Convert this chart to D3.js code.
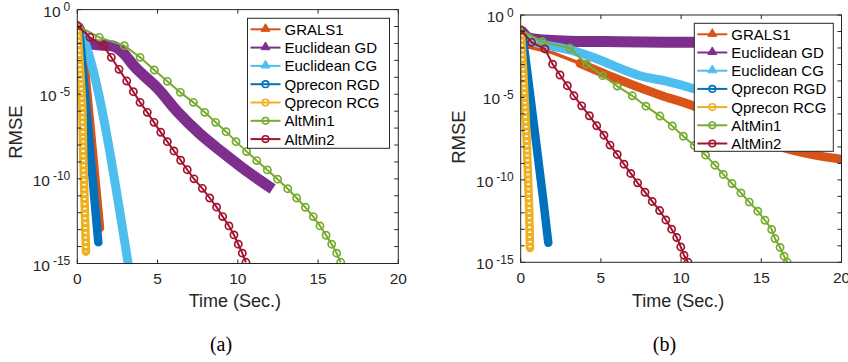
<!DOCTYPE html>
<html>
<head>
<meta charset="utf-8">
<script src="https://cdn.jsdelivr.net/npm/d3@7"></script>
<style>
  body { margin: 0; background: #fff; }
  svg { display: block; }
</style>
</head>
<body>
<svg id="chart" width="848" height="362"></svg>
<script>
const seriesNames = ['GRALS1', 'Euclidean GD', 'Euclidean CG', 'Qprecon RGD', 'Qprecon RCG', 'AltMin1', 'AltMin2'];
const seriesColors = ['#D95319', '#7E2F8E', '#4DBEEE', '#0072BD', '#EDB120', '#77AC30', '#A2142F'];
const seriesMarkers = ['triangle', 'triangle', 'triangle', 'circle', 'circle', 'circle', 'circle'];

const xTicks = [0, 5, 10, 15, 20];
const yLabelExps = [0, -5, -10, -15];
const panelCaptions = ['(a)', '(b)'];

// values are log10(RMSE) against time in seconds

// panel (a)
const grals1A_t = [0, 0.2, 0.58, 1.4];
const grals1A_v = [-0.95, -1.2, -4.65, -12.9];
const eucGdA_t = [0, 0.6, 1.0, 2.2, 2.9, 3.5, 5, 6.3, 7.66, 9, 10.5, 12.17];
const eucGdA_v = [-0.95, -1.9, -2.05, -2.15, -2.6, -3.3, -4.65, -6.1, -7.36, -8.4, -9.5, -10.6];
const eucCgA_t = [0, 0.25, 3.2];
const eucCgA_v = [-0.95, -1.4, -15.2];
const rgdA_t = [0, 0.17, 1.31];
const rgdA_v = [-0.95, -1.7, -13.75];
const rcgA_t = [0, 0.12, 0.31, 0.37, 0.46, 0.54];
const rcgA_v = [-0.95, -2.68, -5.64, -8.59, -11.54, -14.3];
const altMin1A_t = [0, 1.37, 2.93, 3.91, 4.80, 5.61, 6.42, 7.23, 7.94, 8.62, 9.27, 9.89, 10.55, 11.18, 11.84, 12.48, 13.11, 13.67, 14.21, 14.70, 15.12, 15.5, 15.85, 16.16, 16.41];
const altMin1A_v = [-0.95, -1.64, -2.13, -2.82, -3.57, -4.24, -4.89, -5.48, -6.07, -6.66, -7.21, -7.80, -8.39, -8.92, -9.47, -10.02, -10.58, -11.13, -11.68, -12.23, -12.78, -13.33, -13.86, -14.39, -14.93];
const altMin2A_t = [0, 0.79, 1.62, 2.12, 2.60, 3.08, 3.49, 3.91, 4.36, 4.78, 5.20, 5.61, 6.02, 6.44, 6.85, 7.27, 7.79, 8.25, 8.68, 9.06, 9.45, 9.76, 10.03, 10.28, 10.51];
const altMin2A_v = [-0.95, -1.64, -2.13, -2.82, -3.53, -4.22, -4.85, -5.48, -6.07, -6.66, -7.25, -7.80, -8.35, -8.90, -9.46, -10.0, -10.56, -11.13, -11.67, -12.23, -12.78, -13.31, -13.86, -14.39, -14.93];

// panel (b)
const grals1B_t = [0, 0.3, 2, 3.7, 6.2, 8.7, 10.9, 13, 16.4, 20];
const grals1B_v = [-0.91, -1.9, -2.3, -2.93, -3.95, -4.86, -5.57, -6.6, -8.05, -8.75];
const eucGdB_t = [0, 0.58, 2, 3.5, 6.2, 10.8, 14];
const eucGdB_v = [-0.91, -1.42, -1.55, -1.6, -1.62, -1.66, -1.68];
const eucCgB_t = [0, 0.3, 1.35, 3.07, 4.94, 6.2, 7.5, 9, 10.9, 13];
const eucCgB_v = [-0.95, -1.4, -1.76, -2.12, -2.73, -3.24, -3.7, -4.0, -4.5, -5.2];
const rgdB_t = [0, 0.09, 0.89, 1.41, 1.72];
const rgdB_v = [-0.91, -1.0, -7.18, -11.23, -13.82];
const rcgB_t = [0, 0.16, 0.37, 0.52, 0.58];
const rcgB_v = [-0.91, -3.44, -7.49, -11.5, -14.13];
const altMin1B_t = [0, 1.35, 3.07, 4.11, 5.11, 6.02, 6.96, 7.81, 8.68, 9.45, 10.14, 10.82, 11.53, 12.11, 12.63, 13.17, 13.73, 14.25, 14.78, 15.23, 15.65, 15.85, 16.17, 16.42, 16.62];
const altMin1B_v = [-0.91, -1.62, -2.02, -2.98, -3.68, -4.31, -4.90, -5.53, -6.13, -6.73, -7.35, -7.91, -8.5, -9.11, -9.67, -10.22, -10.79, -11.35, -11.9, -12.45, -13.01, -13.56, -14.1, -14.63, -15.0];
const altMin2B_t = [0, 0.68, 1.51, 1.99, 2.45, 2.91, 3.32, 3.80, 4.28, 4.74, 5.19, 5.57, 6.02, 6.44, 6.86, 7.29, 7.75, 8.2, 8.66, 9.05, 9.41, 9.73, 9.98, 10.18, 10.43];
const altMin2B_v = [-0.91, -1.66, -2.06, -2.98, -3.64, -4.29, -4.90, -5.51, -6.11, -6.72, -7.29, -7.89, -8.46, -9.05, -9.61, -10.18, -10.75, -11.31, -11.86, -12.43, -12.99, -13.5, -14.07, -14.57, -15.0];

const zip = (ts, vs) => ts.map((t, i) => ({ t, r: Math.pow(10, vs[i]) }));

const panels = [
  {
    left: 77.3, right: 398.3, top: 9.6, bottom: 263.5, dx: 0,
    legend: { x: 247.5, y: 18.3, w: 142, h: 130, row: 18.3 },
    orangeBandFrom: 0,
    series: [
      zip(grals1A_t, grals1A_v), zip(eucGdA_t, eucGdA_v), zip(eucCgA_t, eucCgA_v),
      zip(rgdA_t, rgdA_v), zip(rcgA_t, rcgA_v), zip(altMin1A_t, altMin1A_v), zip(altMin2A_t, altMin2A_v)
    ]
  },
  {
    left: 520.7, right: 841.5, top: 15, bottom: 262.3, dx: 443.4,
    legend: { x: 694.3, y: 23.3, w: 139, h: 128, row: 18.2 },
    orangeBandFrom: 3.7,
    series: [
      zip(grals1B_t, grals1B_v), zip(eucGdB_t, eucGdB_v), zip(eucCgB_t, eucCgB_v),
      zip(rgdB_t, rgdB_v), zip(rcgB_t, rcgB_v), zip(altMin1B_t, altMin1B_v), zip(altMin2B_t, altMin2B_v)
    ]
  }
];

const svg = d3.select('#chart');
const axisColor = '#262626';
const font = '"Liberation Sans", Arial, Helvetica, sans-serif';

panels.forEach((p, pi) => {
  const x = d3.scaleLinear().domain([0, 20]).range([p.left, p.right]);
  const y = d3.scaleLog().domain([1e-15, 1]).range([p.bottom, p.top]);
  const g = svg.append('g');

  const clipId = 'clip' + pi;
  g.append('clipPath').attr('id', clipId)
    .append('rect')
    .attr('x', p.left).attr('y', p.top)
    .attr('width', p.right - p.left).attr('height', p.bottom - p.top);

  const plot = g.append('g').attr('clip-path', `url(#${clipId})`);
  const line = d3.line().x(d => x(d.t)).y(d => y(d.r));
  const smooth = d3.line().x(d => x(d.t)).y(d => y(d.r)).curve(d3.curveMonotoneX);

  p.series.forEach((data, si) => {
    const c = seriesColors[si];
    if (si === 0) {
      // GRALS1: line, then dense triangles form a band
      plot.append('path').attr('d', line(data))
        .attr('fill', 'none').attr('stroke', c).attr('stroke-width', 3.5)
        .attr('stroke-linejoin', 'round');
      const idx = data.findIndex(d => d.t >= p.orangeBandFrom);
      plot.append('path').attr('d', smooth(data.slice(idx)))
        .attr('fill', 'none').attr('stroke', c).attr('stroke-width', 9)
        .attr('stroke-linejoin', 'round').attr('stroke-linecap', 'round');
    } else if (si === 1 || si === 2) {
      plot.append('path').attr('d', smooth(data))
        .attr('fill', 'none').attr('stroke', c)
        .attr('stroke-width', si === 1 ? 11 : 9)
        .attr('stroke-linejoin', 'round');
    } else if (si === 3) {
      plot.append('path').attr('d', line(data))
        .attr('fill', 'none').attr('stroke', c).attr('stroke-width', 8.5)
        .attr('stroke-linejoin', 'round').attr('stroke-linecap', 'round');
    } else if (si === 4) {
      // dense hollow circles
      plot.append('path').attr('d', line(data))
        .attr('fill', 'none').attr('stroke', c).attr('stroke-width', 8.5)
        .attr('stroke-linejoin', 'round').attr('stroke-linecap', 'round');
      plot.append('path').attr('d', line(data))
        .attr('fill', 'none').attr('stroke', '#fff').attr('stroke-width', 3)
        .attr('stroke-dasharray', '1.6 3.2');
    } else {
      plot.append('path').attr('d', line(data))
        .attr('fill', 'none').attr('stroke', c).attr('stroke-width', 2);
      plot.append('g').selectAll('circle').data(data).join('circle')
        .attr('cx', d => x(d.t)).attr('cy', d => y(d.r)).attr('r', 3.6)
        .attr('fill', 'none').attr('stroke', c).attr('stroke-width', 1.7);
    }
  });

  // box
  g.append('rect')
    .attr('x', p.left).attr('y', p.top)
    .attr('width', p.right - p.left).attr('height', p.bottom - p.top)
    .attr('fill', 'none').attr('stroke', axisColor).attr('stroke-width', 1);

  // ticks
  const tl = 4;
  g.append('g').selectAll('line').data(xTicks).join('line')
    .attr('x1', d => x(d)).attr('x2', d => x(d))
    .attr('y1', p.bottom).attr('y2', p.bottom - tl)
    .attr('stroke', axisColor);
  g.append('g').selectAll('line').data(xTicks).join('line')
    .attr('x1', d => x(d)).attr('x2', d => x(d))
    .attr('y1', p.top).attr('y2', p.top + tl)
    .attr('stroke', axisColor);
  const decades = d3.range(0, 16).map(k => Math.pow(10, -k));
  g.append('g').selectAll('line').data(decades).join('line')
    .attr('x1', p.left).attr('x2', p.left + tl)
    .attr('y1', d => y(d)).attr('y2', d => y(d))
    .attr('stroke', axisColor);
  g.append('g').selectAll('line').data(decades).join('line')
    .attr('x1', p.right).attr('x2', p.right - tl)
    .attr('y1', d => y(d)).attr('y2', d => y(d))
    .attr('stroke', axisColor);

  // tick labels
  g.append('g').selectAll('text').data(xTicks).join('text')
    .attr('x', d => x(d)).attr('y', p.bottom + 20.5)
    .attr('text-anchor', 'middle')
    .attr('font-family', font).attr('font-size', 15.5).attr('fill', axisColor)
    .text(d => d);

  const yl = g.append('g').selectAll('text').data(yLabelExps).join('text')
    .attr('x', p.left - 7).attr('y', d => y(Math.pow(10, d)) + 7)
    .attr('text-anchor', 'end')
    .attr('font-family', font).attr('font-size', 15.5).attr('fill', axisColor);
  yl.append('tspan').text('10');
  yl.append('tspan').attr('dx', 3).attr('dy', -5.5).attr('font-size', 12).text(d => String(d));

  // axis labels
  const cy = (p.top + p.bottom) / 2 - (pi === 0 ? 4.5 : 1.5);
  g.append('text')
    .attr('transform', `translate(${21.5 + p.dx},${cy}) rotate(-90)`)
    .attr('text-anchor', 'middle')
    .attr('font-family', font).attr('font-size', 18.5).attr('fill', axisColor)
    .text('RMSE');
  g.append('text')
    .attr('x', (p.left + p.right) / 2 - 3).attr('y', 306.5)
    .attr('text-anchor', 'middle')
    .attr('font-family', font).attr('font-size', 18).attr('fill', axisColor)
    .text('Time (Sec.)');
  g.append('text')
    .attr('x', 221 + p.dx).attr('y', 351)
    .attr('text-anchor', 'middle')
    .attr('font-family', '"Liberation Serif", "DejaVu Serif", serif').attr('font-size', 20).attr('fill', '#000')
    .text(panelCaptions[pi]);

  // legend
  const L = p.legend;
  const lg = g.append('g');
  lg.append('rect')
    .attr('x', L.x).attr('y', L.y).attr('width', L.w).attr('height', L.h)
    .attr('fill', '#fff').attr('stroke', axisColor).attr('stroke-width', 1);
  seriesNames.forEach((name, i) => {
    const ry = L.y + 11 + i * L.row;
    const c = seriesColors[i];
    lg.append('line')
      .attr('x1', L.x + 3).attr('x2', L.x + 33).attr('y1', ry).attr('y2', ry)
      .attr('stroke', c).attr('stroke-width', 2);
    const mx = L.x + 18;
    if (seriesMarkers[i] === 'triangle') {
      lg.append('path')
        .attr('d', d3.symbol().type(d3.symbolTriangle).size(34)())
        .attr('transform', `translate(${mx},${ry - 0.5})`)
        .attr('fill', c).attr('stroke', c).attr('stroke-width', 1);
    } else {
      lg.append('circle').attr('cx', mx).attr('cy', ry).attr('r', 3.3)
        .attr('fill', 'none').attr('stroke', c).attr('stroke-width', 1.6);
    }
    lg.append('text')
      .attr('x', L.x + 37).attr('y', ry + 5.5)
      .attr('font-family', font).attr('font-size', 15).attr('fill', '#000')
      .text(name);
  });
});
</script>
</body>
</html>
